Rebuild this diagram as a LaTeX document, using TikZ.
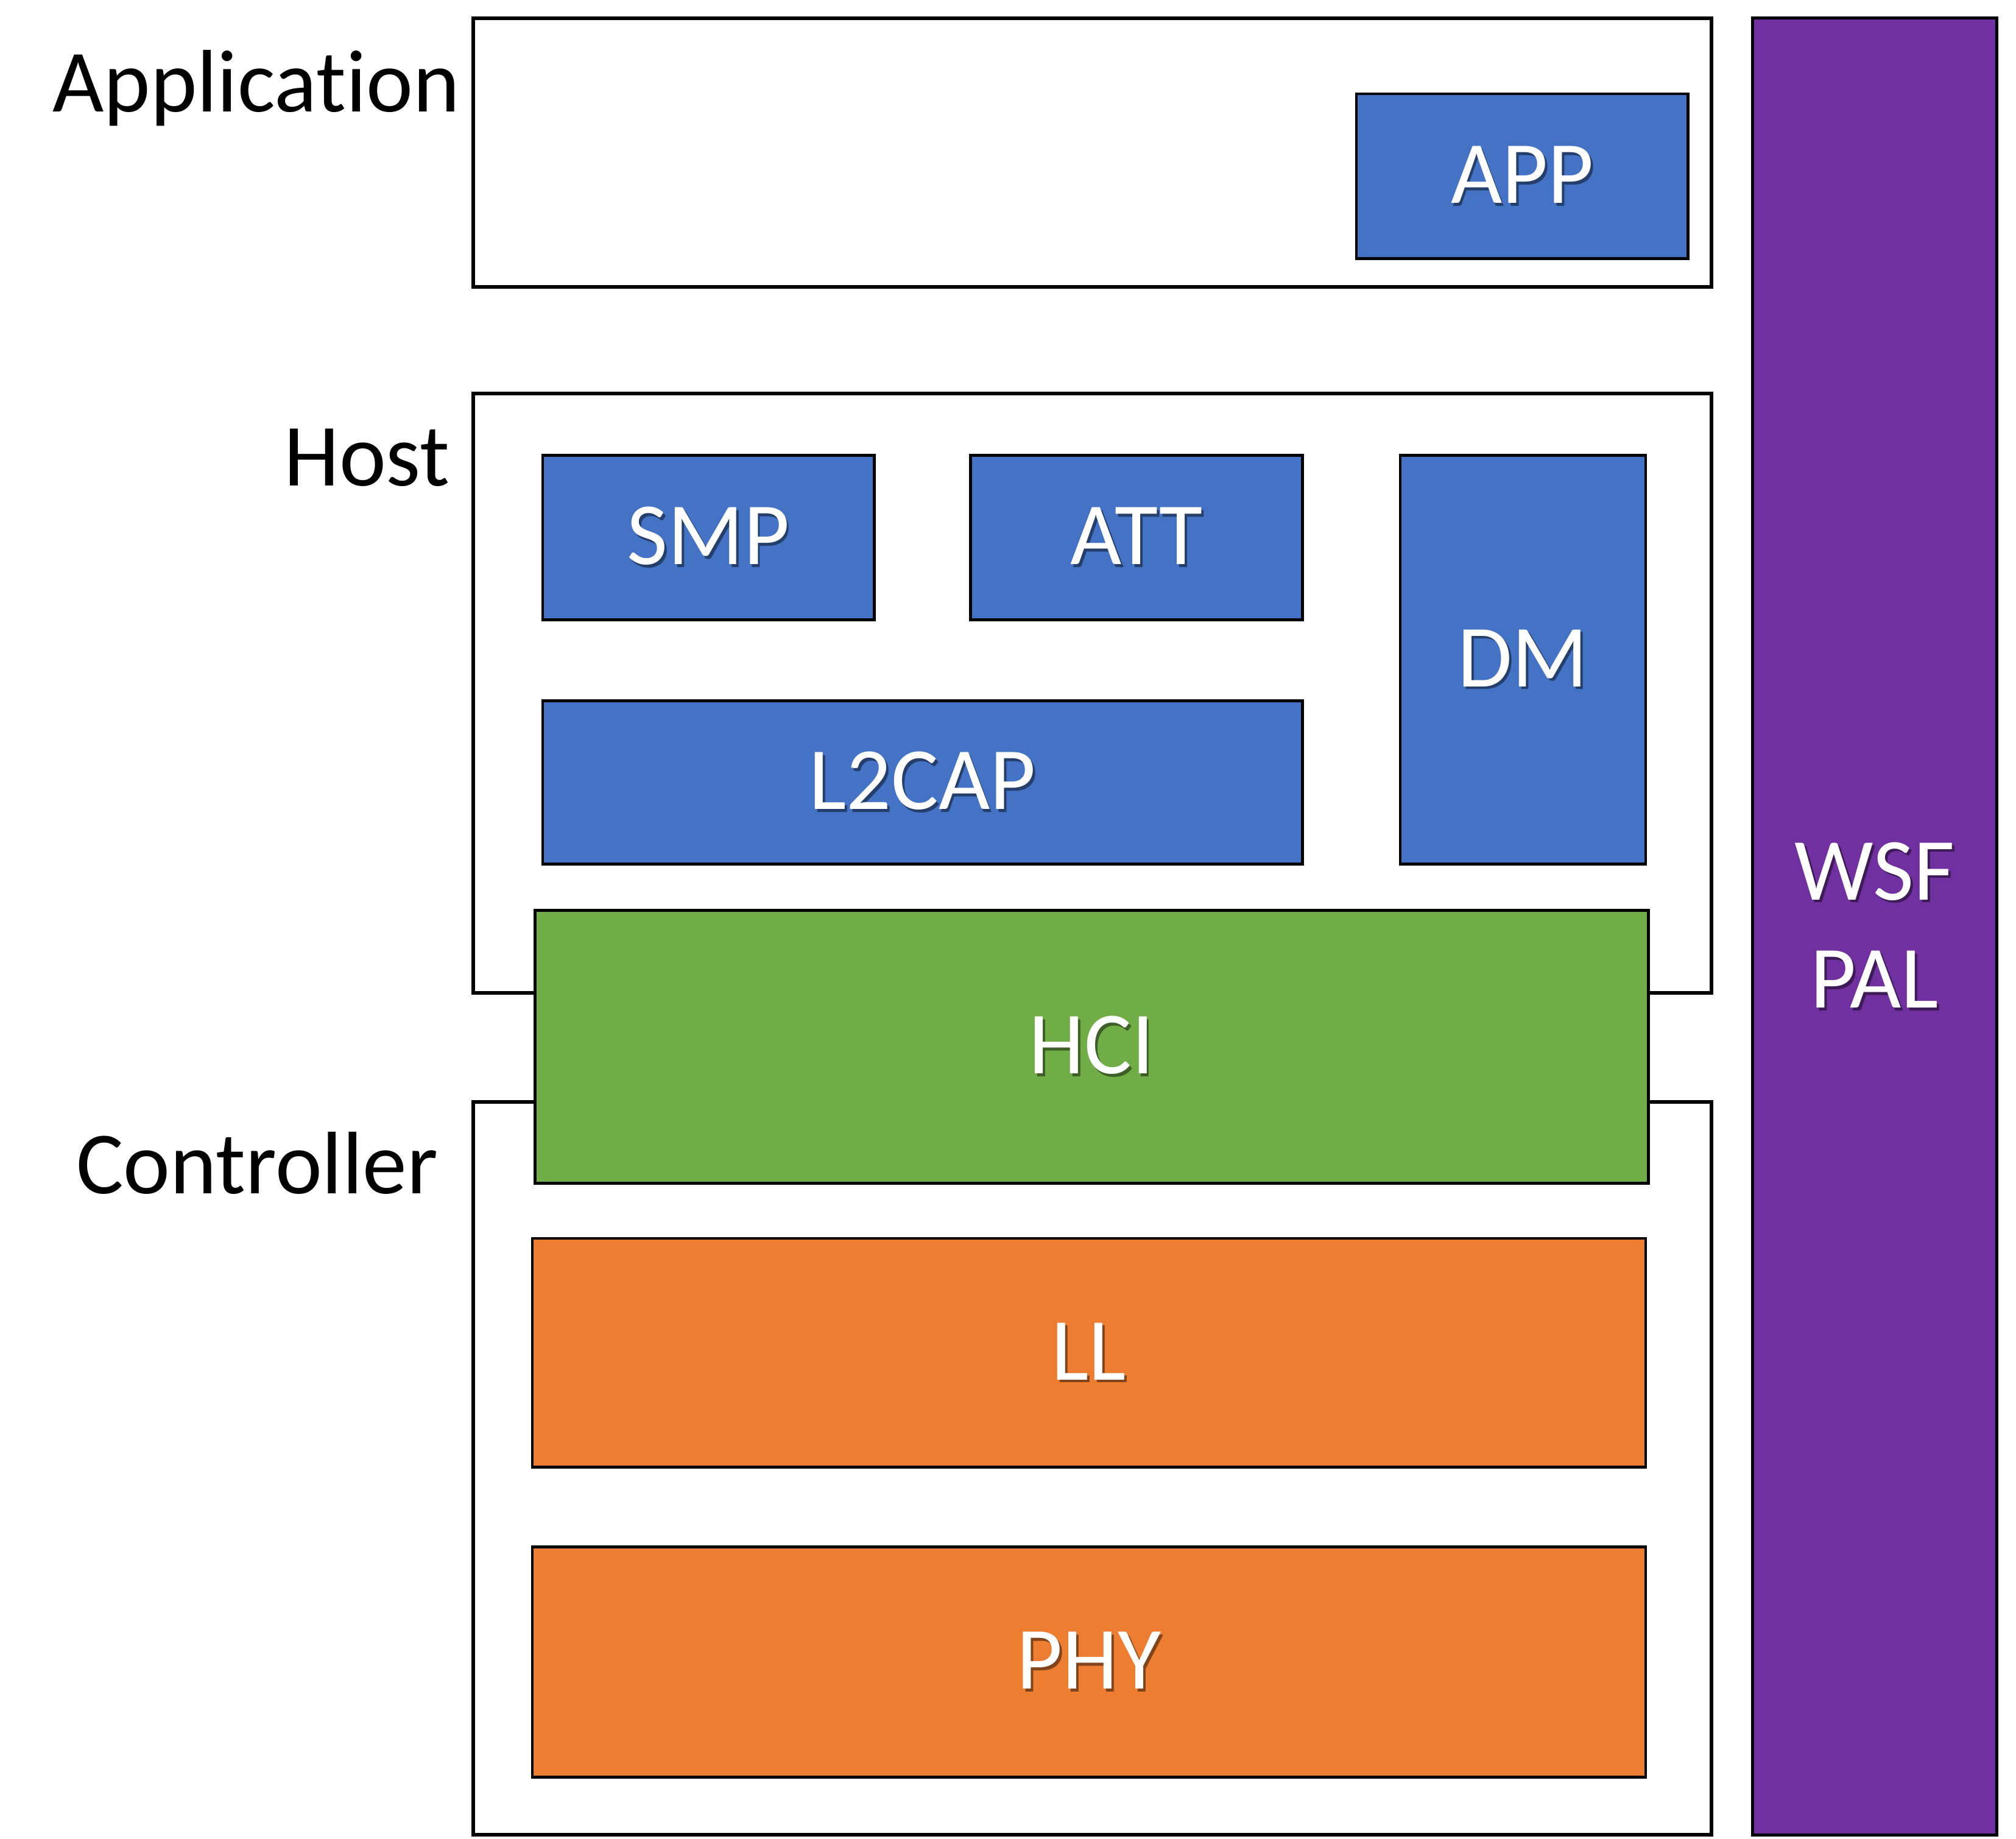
\documentclass[tikz,border=0pt]{standalone}
\usepackage{fontspec}
\setmainfont{Carlito}[Ligatures={NoCommon}]
\definecolor{cBlue}{HTML}{4472C4}
\definecolor{cGreen}{HTML}{70AD47}
\definecolor{cOrange}{HTML}{ED7D31}
\definecolor{cPurple}{HTML}{7030A0}
\newcommand{\bigtxt}{\fontsize{34.5}{41}\selectfont}
\newcommand{\shd}[2]{\raisebox{-1.2pt}{\makebox[0pt][l]{\hspace{0.9pt}\raisebox{-1.1pt}{\textcolor{#1}{#2}}}\textcolor{white}{#2}}}
\newcommand{\blk}[7]{\node[#6, minimum width={(#4-#2)*0.5pt}, minimum height={(#5-#3)*0.5pt}] (#1) at ({(#2+#4)/2},{(#3+#5)/2}) {#7};}
\begin{document}
\begin{tikzpicture}[x=0.5pt,y=-0.5pt,
  frame/.style={draw=black, line width=1.4pt, fill=white, inner sep=0pt, outer sep=0pt},
  module/.style={draw=black, line width=1.1pt, inner sep=0pt, outer sep=0pt, font=\bigtxt, align=center},
  bluebox/.style={module, fill=cBlue},
  greenbox/.style={module, fill=cGreen, line width=1.2pt},
  orangebox/.style={module, fill=cOrange},
  purplebox/.style={module, fill=cPurple, line width=1.2pt},
  layerlabel/.style={font=\bigtxt, anchor=base east, inner sep=0pt}]
\useasboundingbox (0,0) rectangle (1568,1430);
% layer frames
\blk{appframe}{368}{14}{1331}{223}{frame}{}
\blk{hostframe}{368}{306}{1331}{772}{frame}{}
\blk{ctrlframe}{368}{857}{1331}{1427}{frame}{}
% layer labels
\node[layerlabel] (lapp) at (358,87) {Application};
\node[layerlabel] (lhost) at (350,378) {Host};
\node[layerlabel] (lctrl) at (341,928) {Controller};
% modules
\blk{app}{1055}{73}{1313}{201}{bluebox}{\shd{black!45!cBlue}{APP}}
\blk{smp}{422}{354}{680}{482}{bluebox}{\shd{black!45!cBlue}{SMP}}
\blk{att}{755}{354}{1013}{482}{bluebox}{\shd{black!45!cBlue}{ATT}}
\blk{dm}{1089}{354}{1280}{672}{bluebox}{\shd{black!45!cBlue}{DM}}
\blk{l2cap}{422}{545}{1013}{672}{bluebox}{\shd{black!45!cBlue}{L2CAP}}
\blk{hci}{416}{708}{1282}{920}{greenbox}{\shd{black!45!cGreen}{HCI}}
\blk{ll}{414}{963}{1280}{1141}{orangebox}{\shd{black!45!cOrange}{LL}}
\blk{phy}{414}{1203}{1280}{1382}{orangebox}{\shd{black!45!cOrange}{PHY}}
\blk{wsf}{1363}{14}{1553}{1427}{purplebox}{\shd{black!45!cPurple}{WSF}\\[1pt]\shd{black!45!cPurple}{PAL}}
\end{tikzpicture}
\end{document}
